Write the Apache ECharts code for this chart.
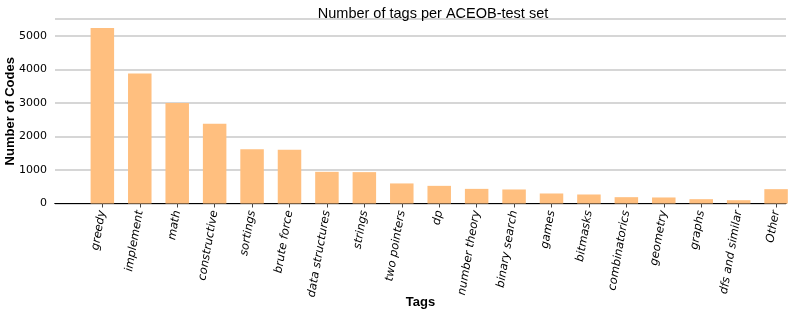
<!DOCTYPE html>
<html>
<head>
<meta charset="utf-8">
<script src="https://cdn.jsdelivr.net/npm/echarts@6/dist/echarts.min.js"></script>
<style>html,body{margin:0;padding:0;background:#fff}#c{width:789px;height:316px}</style>
</head>
<body>
<div id="c"></div>
<script>
const categories = ["greedy","implement","math","constructive","sortings","brute force","data structures","strings","two pointers","dp","number theory","binary search","games","bitmasks","combinatorics","geometry","graphs","dfs and similar","Other"];
const counts = [5240,3880,3005,2385,1617,1605,946,937,599,527,437,419,299,269,189,180,129,99,428];
const yTicks = [0,1000,2000,3000,4000,5000];

const idx = categories.map((_, i) => i);
const chart = echarts.init(document.getElementById('c'), null, {renderer: 'canvas'});
chart.setOption({
  animation: false,
  backgroundColor: '#fff',
  title: {
    text: 'Number of tags per ACEOB-test set',
    left: 428, top: 1, textAlign: 'center',
    textStyle: {fontFamily: 'Liberation Sans', fontWeight: 'normal', fontSize: 14.5, color: '#000'}
  },
  grid: {left: 55, right: 3, top: 19, bottom: 112.5, containLabel: false, outerBoundsMode: 'none'},
  xAxis: [{
    type: 'value', min: -1.265, max: 18.265,
    name: 'Tags', nameLocation: 'middle', nameGap: 92, nameMoveOverlap: false,
    nameTextStyle: {fontFamily: 'Liberation Sans', fontWeight: 'bold', fontSize: 13, color: '#000'},
    axisLine: {show: true, onZero: false, lineStyle: {color: '#444', width: 1.2}},
    axisTick: {show: true, customValues: idx, length: 4, lineStyle: {color: '#444', width: 1}},
    axisLabel: {
      customValues: idx, rotate: 80, margin: 7,
      fontFamily: 'DejaVu Sans', fontStyle: 'italic', fontSize: 11.5, color: '#000',
      formatter: v => categories[Math.round(v)] || ''
    },
    splitLine: {show: false}
  }, {
    type: 'value', position: 'top', min: -1.265, max: 18.265,
    axisLine: {show: true, lineStyle: {color: '#000', width: 1.2}},
    axisTick: {show: false}, axisLabel: {show: false}, splitLine: {show: false}
  }],
  yAxis: {
    type: 'value', min: 0, max: 5510, interval: 1000,
    name: 'Number of Codes', nameLocation: 'middle', nameGap: 38, nameMoveOverlap: false,
    nameTextStyle: {fontFamily: 'Liberation Sans', fontWeight: 'bold', fontSize: 13, color: '#000'},
    axisLine: {show: false}, axisTick: {show: false},
    axisLabel: {
      fontFamily: 'DejaVu Sans', fontSize: 11, color: '#000', margin: 8,
      customValues: yTicks, formatter: v => String(v)
    },
    splitLine: {show: true, lineStyle: {color: '#c8c8c8', width: 1.5}}
  },
  series: [{
    type: 'bar', barWidth: 23.5,
    itemStyle: {color: '#ffbf7f'},
    data: counts.map((v, i) => [i, v])
  }]
});
</script>
</body>
</html>
